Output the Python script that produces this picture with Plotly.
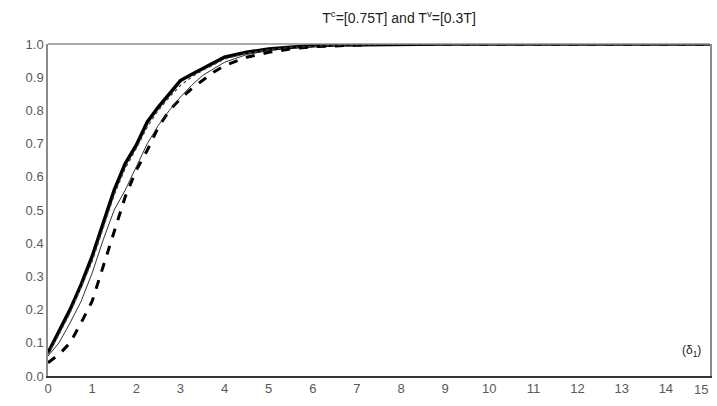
import plotly.graph_objects as go

x_vals = [0, 0.25, 0.5, 0.75, 1.0, 1.25, 1.5, 1.75, 2.0, 2.25, 2.5, 2.75, 3.0, 3.25,
          3.5, 3.75, 4.0, 4.5, 5.0, 5.5, 6.0, 6.5, 7.0, 7.5, 8, 9, 10, 11, 12, 13, 14, 15]

thick_solid = [0.07, 0.135, 0.2, 0.275, 0.36, 0.46, 0.56, 0.64, 0.695, 0.765, 0.81, 0.85,
               0.89, 0.908, 0.925, 0.942, 0.96, 0.975, 0.985, 0.99, 0.995, 0.997, 0.998,
               0.999, 1.0, 1.0, 1.0, 1.0, 1.0, 1.0, 1.0, 1.0]
dotted = [0.065, 0.125, 0.19, 0.265, 0.345, 0.445, 0.545, 0.625, 0.685, 0.75, 0.80, 0.84,
          0.875, 0.90, 0.92, 0.937, 0.955, 0.972, 0.983, 0.99, 0.994, 0.996, 0.998,
          0.999, 1.0, 1.0, 1.0, 1.0, 1.0, 1.0, 1.0, 1.0]
thin_solid = [0.06, 0.10, 0.16, 0.225, 0.31, 0.41, 0.50, 0.56, 0.63, 0.70, 0.755, 0.80,
              0.84, 0.875, 0.905, 0.925, 0.945, 0.968, 0.98, 0.988, 0.993, 0.996, 0.998,
              0.999, 1.0, 1.0, 1.0, 1.0, 1.0, 1.0, 1.0, 1.0]
dashed = [0.04, 0.065, 0.10, 0.16, 0.225, 0.33, 0.43, 0.54, 0.62, 0.68, 0.75, 0.80,
          0.835, 0.865, 0.89, 0.915, 0.935, 0.96, 0.975, 0.985, 0.992, 0.995, 0.997,
          0.999, 1.0, 1.0, 1.0, 1.0, 1.0, 1.0, 1.0, 1.0]

x_ticks = list(range(0, 16))
y_ticks = [0.0, 0.1, 0.2, 0.3, 0.4, 0.5, 0.6, 0.7, 0.8, 0.9, 1.0]

fig = go.Figure()
fig.add_trace(go.Scatter(x=x_vals, y=dashed, mode="lines",
                         line=dict(color="black", width=3, dash="dash"), showlegend=False))
fig.add_trace(go.Scatter(x=x_vals, y=thin_solid, mode="lines",
                         line=dict(color="#333333", width=1), showlegend=False))
fig.add_trace(go.Scatter(x=x_vals, y=thick_solid, mode="lines",
                         line=dict(color="black", width=3.5), showlegend=False))
fig.add_trace(go.Scatter(x=x_vals, y=dotted, mode="lines",
                         line=dict(color="#444444", width=1.2, dash="dot"), showlegend=False))

tick_font = dict(family="Liberation Sans, Arial, sans-serif", size=13, color="#595959")

fig.update_layout(
    width=717, height=406,
    margin=dict(l=48, r=5, t=44, b=30),
    paper_bgcolor="white", plot_bgcolor="white",
    font=tick_font,
    title=dict(text="T<sup>c</sup>=[0.75T] and T<sup>v</sup>=[0.3T]",
               x=399 / 717, xanchor="center", y=0.955, yanchor="middle",
               font=dict(size=14, color="#222222")),
    xaxis=dict(range=[0, 15], tickvals=x_ticks[:-1], ticktext=[str(v) for v in x_ticks[:-1]],
               showgrid=False, zeroline=False, showline=True, linecolor="#333333",
               linewidth=1.5, ticks="", ticklen=0),
    yaxis=dict(range=[0, 1.0], tickvals=y_ticks, ticktext=["%.1f" % v for v in y_ticks],
               showgrid=False, zeroline=False, showline=True, linecolor="#8c8c8c",
               linewidth=1.5, mirror=True, ticks="", ticklen=0),
    shapes=[dict(type="line", xref="paper", yref="paper", x0=0, x1=1, y0=1, y1=1,
                 line=dict(color="#8c8c8c", width=1.5))],
    annotations=[
        dict(text="(δ<sub>1</sub>)", x=14.85, y=0.075, xref="x", yref="y",
             xanchor="right", yanchor="middle", showarrow=False,
             font=dict(size=12, color="#222222")),
        dict(text=str(x_ticks[-1]), x=x_ticks[-1], y=0, xref="x", yref="paper",
             xanchor="right", yanchor="top", yshift=-4, showarrow=False, font=tick_font),
    ],
)

fig.write_html("out.html")
